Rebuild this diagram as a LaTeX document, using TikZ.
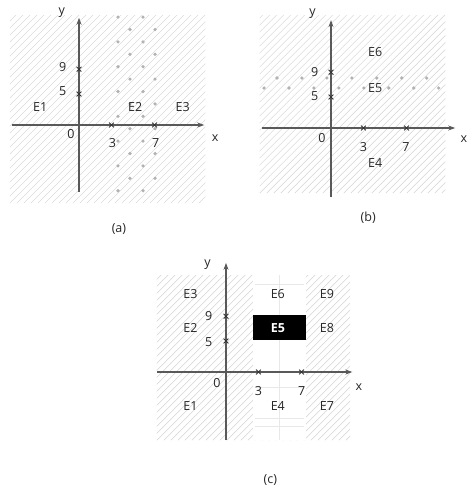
\documentclass[tikz,border=0pt]{standalone}
\usepackage{fontspec}
\setmainfont{Open Sans}
\usetikzlibrary{arrows.meta}

\begin{document}
\begin{tikzpicture}[>={Stealth[length=7pt, width=5pt]}, x=10.8pt, y=6.2pt,
    lbl/.style={font=\fontsize{12.5}{14}\selectfont, text=black!85, inner sep=0pt},
    axis/.style={draw=black!65, line width=1.2pt, ->},
    hatch/.style={draw=black!14, line width=0.6pt},
    tick/.style={draw=black!80, line width=0.9pt},
    dot/.style={fill=black!30},
    faint/.style={draw=black!9, line width=0.5pt}]

    \useasboundingbox (0pt,0pt) rectangle (469pt,-494pt);

    % (a) : E1 | E2 | E3
    \begin{scope}[shift={(79pt,-125pt)}]
        \begin{scope}
            \clip (-6.4,-12.6) rectangle (11.7,17.7);
            \foreach \k in {-26,...,28}
                \draw[hatch] (-6.4,-12.6) ++(\k*7pt,0) -- ++(260pt,260pt);
        \end{scope}
        \foreach \c/\yo/\n in {3.61/17.4/8, 5.93/17.4/8, 4.72/15.4/7, 7.04/15.4/7}
            \foreach \r in {1,...,\n}
                \fill[dot] (\c,\yo-4*\r+4) circle (1.8pt);

        \coordinate (a-xl) at (-6.2,0);
        \coordinate (a-xr) at (11.6,0);
        \coordinate (a-yb) at (0,-10.8);
        \coordinate (a-yt) at (0,17.3);
        \draw[axis] (a-xl) -- (a-xr);
        \draw[axis] (a-yb) -- (a-yt);
        \foreach \p in {(3,0),(7,0),(0,5),(0,9)}
            \draw[tick] \p +(-2.4pt,-2.4pt) -- +(2.4pt,2.4pt) \p +(-2.4pt,2.4pt) -- +(2.4pt,-2.4pt);

        \node[lbl] (a-y) at (-1.6,18.1) {y};
        \node[lbl] (a-x) at (12.6,-2.1) {x};
        \node[lbl] (a-9) at (-1.5,9.4) {9};
        \node[lbl] (a-5) at (-1.5,5.4) {5};
        \node[lbl] (a-0) at (-0.75,-1.4) {0};
        \node[lbl] (a-3) at (3.1,-2.9) {3};
        \node[lbl] (a-7) at (7.1,-2.9) {7};
        \node[lbl] (a-E1) at (-3.6,2.9) {E1};
        \node[lbl] (a-E2) at (5.2,2.9) {E2};
        \node[lbl] (a-E3) at (9.6,2.9) {E3};
        \node[lbl] (a-cap) at (3.7,-16.8) {(a)};
    \end{scope}

    % (b) : E4 / E5 / E6
    \begin{scope}[shift={(331pt,-128pt)}]
        \begin{scope}
            \clip (-6.6,-10.5) rectangle (10.6,18.2);
            \foreach \k in {-26,...,28}
                \draw[hatch] (-6.6,-10.5) ++(\k*7pt,0) -- ++(260pt,260pt);
        \end{scope}
        \foreach \r in {0,...,6}
            \fill[dot] (-5.0+2.31*\r,8.06) circle (1.8pt);
        \foreach \r in {0,...,7}
            \fill[dot] (-6.2+2.31*\r,6.45) circle (1.8pt);

        \coordinate (b-xl) at (-6.4,0);
        \coordinate (b-xr) at (11.5,0);
        \coordinate (b-yb) at (0,-11.1);
        \coordinate (b-yt) at (0,17.4);
        \draw[axis] (b-xl) -- (b-xr);
        \draw[axis] (b-yb) -- (b-yt);
        \foreach \p in {(3,0),(7,0),(0,5),(0,9)}
            \draw[tick] \p +(-2.4pt,-2.4pt) -- +(2.4pt,2.4pt) \p +(-2.4pt,2.4pt) -- +(2.4pt,-2.4pt);

        \node[lbl] (b-y) at (-1.7,18.5) {y};
        \node[lbl] (b-x) at (12.3,-1.8) {x};
        \node[lbl] (b-9) at (-1.5,9.1) {9};
        \node[lbl] (b-5) at (-1.5,5.1) {5};
        \node[lbl] (b-0) at (-0.85,-1.6) {0};
        \node[lbl] (b-3) at (3.0,-3.0) {3};
        \node[lbl] (b-7) at (6.95,-3.0) {7};
        \node[lbl] (b-E6) at (4.1,12.3) {E6};
        \node[lbl] (b-E5) at (4.1,6.5) {E5};
        \node[lbl] (b-E4) at (4.1,-5.6) {E4};
        \node[lbl] (b-cap) at (3.45,-14.5) {(b)};
    \end{scope}

    % (c) : E1 ... E9
    \begin{scope}[shift={(226pt,-372pt)}]
        \begin{scope}
            \clip (-6.4,-11.0) rectangle (11.5,15.6);
            \foreach \k in {-26,...,28}
                \draw[hatch] (-6.4,-11.0) ++(\k*7pt,0) -- ++(260pt,260pt);
        \end{scope}
        \fill[white] (2.5,-11.0) rectangle (7.4,15.6);
        \foreach \h in {14.2,8.5,-2.5,-7.5,-8.8}
            \draw[faint] (2.7,\h) -- (7.2,\h);
        \draw[faint] (4.95,15.6) -- (4.95,-11.0);

        \coordinate (c-xl) at (-6.4,0);
        \coordinate (c-xr) at (11.7,0);
        \coordinate (c-yb) at (0,-11.0);
        \coordinate (c-yt) at (0,17.6);
        \draw[axis] (c-xl) -- (c-xr);
        \draw[axis] (c-yb) -- (c-yt);
        \foreach \p in {(3,0),(7,0),(0,5),(0,9)}
            \draw[tick] \p +(-2.4pt,-2.4pt) -- +(2.4pt,2.4pt) \p +(-2.4pt,2.4pt) -- +(2.4pt,-2.4pt);

        \fill[black] (2.5,5.15) rectangle (7.45,9.2);

        \node[lbl] (c-y) at (-1.7,17.3) {y};
        \node[lbl] (c-x) at (12.3,-2.4) {x};
        \node[lbl] (c-9) at (-1.6,9.0) {9};
        \node[lbl] (c-5) at (-1.6,4.9) {5};
        \node[lbl] (c-0) at (-0.85,-1.8) {0};
        \node[lbl] (c-3) at (3.0,-3.0) {3};
        \node[lbl] (c-7) at (7.0,-3.0) {7};
        \node[lbl] (c-E3) at (-3.3,12.6) {E3};
        \node[lbl] (c-E6) at (4.8,12.6) {E6};
        \node[lbl] (c-E9) at (9.35,12.6) {E9};
        \node[lbl] (c-E2) at (-3.3,7.1) {E2};
        \node[lbl, text=white, font=\fontsize{12.5}{14}\selectfont\bfseries] (c-E5) at (4.8,7.1) {E5};
        \node[lbl] (c-E8) at (9.35,7.1) {E8};
        \node[lbl] (c-E1) at (-3.3,-5.5) {E1};
        \node[lbl] (c-E4) at (4.8,-5.5) {E4};
        \node[lbl] (c-E7) at (9.35,-5.5) {E7};
        \node[lbl] (c-cap) at (4.1,-17.4) {(c)};
    \end{scope}
\end{tikzpicture}
\end{document}
